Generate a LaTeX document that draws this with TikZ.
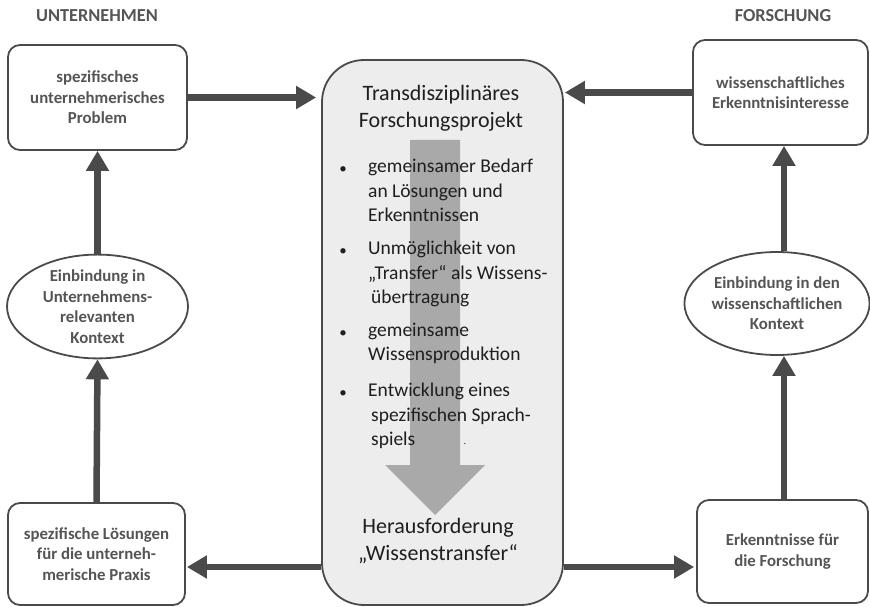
\documentclass[tikz,border=0pt]{standalone}
\usepackage{fontspec}
\setmainfont{Carlito}
\usetikzlibrary{arrows.meta,shapes.geometric}
\definecolor{linegray}{HTML}{4A4A4A}
\definecolor{txtgray}{HTML}{555555}
\definecolor{fillgray}{HTML}{EDEDED}
\definecolor{biggray}{HTML}{A9A9A9}
\tikzset{
  sidebox/.style={draw=linegray, line width=1.8pt, rounded corners=12pt, fill=white,
    align=center, font=\fontsize{16.8}{20.5}\selectfont\bfseries, text=txtgray, inner sep=0pt},
  sideell/.style={draw=linegray, line width=1.8pt, ellipse, fill=white, inner sep=0pt,
    align=center, font=\fontsize{16.8}{20.5}\selectfont\bfseries, text=txtgray},
  arr/.style={draw=linegray, line width=6.5pt, -{Triangle[length=20pt 0,width=22pt 0]}},
  head/.style={font=\fontsize{18.3}{20}\selectfont\bfseries, text=txtgray},
  ctext/.style={font=\fontsize{19.5}{24.3}\selectfont, text=black!88, align=left, inner sep=0pt},
  bul/.style={font=\fontsize{15}{15}\selectfont, text=black!88, inner sep=0pt},
  ctitle/.style={font=\fontsize{22}{27}\selectfont, text=black!88, align=center, inner sep=0pt}
}
\begin{document}
\begin{tikzpicture}[x=1pt,y=-1pt]
\useasboundingbox (0,0) rectangle (870,607);
% headers
\node[head] (h1) at (97,16) {UNTERNEHMEN};
\node[head] (h2) at (783,16) {FORSCHUNG};
% center box
\node[draw=linegray, line width=1.8pt, fill=fillgray, rounded corners=42pt,
  minimum width=241pt, minimum height=545pt, inner sep=0pt] (c) at (442.5,332.5) {};
% big gray arrow
\fill[biggray] (410,140) -- (460,140) -- (460,465) -- (485,465) -- (435,515) -- (385,465) -- (410,465) -- cycle;
% center texts
\node[ctitle] (t1) at (441,108) {Transdisziplinäres\\Forschungsprojekt};
\node[bul] (b1) at (343,170) {•};
\node[bul] (b2) at (343,252) {•};
\node[bul] (b3) at (343,334) {•};
\node[bul] (b4) at (343,394) {•};
\node[ctext, anchor=north west] (p1) at (368,159) {gemeinsamer Bedarf\\an Lösungen und\\Erkenntnissen};
\node[ctext, anchor=north west] (p2) at (368,241) {Unmöglichkeit von\\„Transfer“ als Wissens-\\\hspace{3pt}übertragung};
\node[ctext, anchor=north west] (p3) at (368,323) {gemeinsame\\Wissensproduktion};
\node[ctext, anchor=north west] (p4) at (368,383) {Entwicklung eines\\\hspace{3pt}spezifischen Sprach-\\\hspace{3pt}spiels};
\node[ctext, font=\fontsize{10}{10}\selectfont] (dot) at (465,444) {.};
\node[ctitle] (t2) at (438,541) {Herausforderung\\„Wissenstransfer“};
% side boxes
\node[sidebox, minimum width=179pt, minimum height=105pt] (tl) at (97.5,97.5) {spezifisches\\unternehmerisches\\Problem};
\node[sidebox, minimum width=175pt, minimum height=105pt] (tr) at (780.5,92.5) {wissenschaftliches\\Erkenntnisinteresse};
\node[sidebox, minimum width=177pt, minimum height=102pt] (bl) at (96.5,554) {spezifische Lösungen\\für die unterneh-\\merische Praxis};
\node[sidebox, minimum width=171pt, minimum height=103pt] (br) at (782.5,551.5) {Erkenntnisse für\\die Forschung};
\node[sideell, minimum width=181pt, minimum height=103pt] (el) at (97.5,306.5) {Einbindung in\\Unternehmens-\\relevanten\\Kontext};
\node[sideell, minimum width=180pt, minimum height=103pt] (er) at (777,303.5) {Einbindung in den\\wissenschaftlichen\\Kontext};
% arrows
\draw[arr, shorten >=5pt] (tl.east) -- (c.west |- tl.east);
\draw[arr, shorten >=1pt] (tr.west) -- (c.east |- tr.west);
\coordinate (yl) at (0,567);
\draw[arr, shorten >=1pt] (c.west |- yl) -- (bl.east |- yl);
\draw[arr, shorten >=2pt] (c.east |- yl) -- (br.west |- yl);
\draw[arr] (bl.north) -- (el.south);
\draw[arr] (el.north) -- (tl.south);
\coordinate (xr) at (784,0);
\draw[arr] (br.north -| xr) -- (xr |- er.south);
\draw[arr] (xr |- er.north) -- (tr.south -| xr);
\end{tikzpicture}
\end{document}
